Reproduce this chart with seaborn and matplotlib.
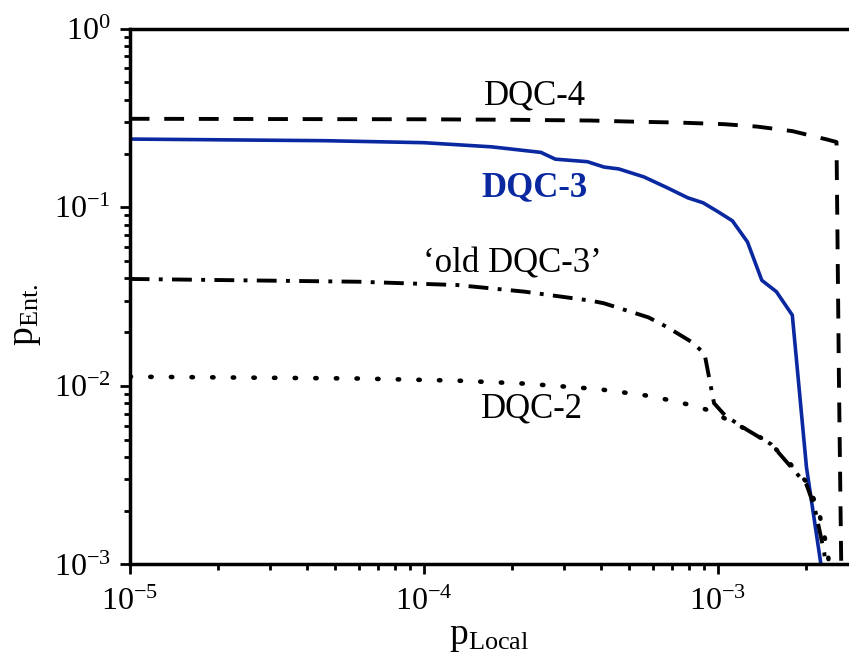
import matplotlib
matplotlib.use("Agg")
import matplotlib.pyplot as plt
import seaborn as sns

# curves (x = p_Local, y = p_Ent.)
dqc4_x = [1e-5, 3e-5, 1e-4, 2e-4, 3.7e-4, 5.0e-4, 7.4e-4, 1.05e-3, 1.36e-3, 1.79e-3, 2.34e-3, 2.53e-3, 2.58e-3, 2.63e-3]
dqc4_y = [0.313, 0.312, 0.311, 0.309, 0.306, 0.302, 0.298, 0.292, 0.283, 0.267, 0.240, 0.232, 0.01, 8e-4]

dqc3_x = [1e-5, 4.6e-5, 1.0e-4, 1.7e-4, 2.5e-4, 2.8e-4, 3.6e-4, 4.1e-4, 4.6e-4, 5.6e-4, 6.7e-4,
          7.9e-4, 8.9e-4, 1.0e-3, 1.12e-3, 1.26e-3, 1.41e-3, 1.58e-3, 1.79e-3, 2.0e-3, 2.24e-3, 2.26e-3]
dqc3_y = [0.241, 0.236, 0.230, 0.218, 0.203, 0.186, 0.180, 0.168, 0.164, 0.148, 0.129,
          0.113, 0.106, 0.0945, 0.084, 0.064, 0.039, 0.0337, 0.0249, 0.0035, 0.0010, 0.0009]

old3_x = [1e-5, 6e-5, 1.3e-4, 2.2e-4, 3.7e-4, 4.1e-4, 5.8e-4, 6.7e-4, 8.1e-4, 9.0e-4, 9.7e-4,
          1.06e-3, 1.25e-3, 1.52e-3, 1.75e-3, 2.0e-3, 2.13e-3, 2.30e-3, 2.33e-3]
old3_y = [0.0397, 0.0383, 0.0367, 0.0337, 0.030, 0.029, 0.0242, 0.0214, 0.0177, 0.0152, 0.0080,
          0.0068, 0.0057, 0.0047, 0.0036, 0.0028, 0.0021, 0.00116, 0.0009]

dqc2_x = [1e-5, 6e-5, 1.3e-4, 2.2e-4, 3.6e-4, 4.1e-4, 5.0e-4, 5.8e-4, 6.9e-4, 8.1e-4, 9.4e-4,
          1.05e-3, 1.25e-3, 1.5e-3, 1.75e-3, 2.0e-3, 2.2e-3, 2.36e-3, 2.4e-3]
dqc2_y = [0.01126, 0.0110, 0.0107, 0.0103, 0.0097, 0.0095, 0.0091, 0.0088, 0.0083, 0.0078, 0.00727,
          0.0066, 0.0057, 0.0048, 0.0037, 0.0029, 0.0020, 0.0012, 0.0009]

labels = ["DQC-4", "DQC-3", "\u2018old DQC-3\u2019", "DQC-2"]
label_x = [2.38e-4, 2.38e-4, 2.0e-4, 2.34e-4]
label_y = [0.374, 0.1157, 0.0430, 0.00664]

blue = "#0a28a0"

sns.set_theme(style="ticks")
plt.rcParams["font.family"] = ["Liberation Serif", "DejaVu Serif"]
plt.rcParams["mathtext.fontset"] = "custom"
plt.rcParams["mathtext.rm"] = "Liberation Serif"
plt.rcParams["axes.unicode_minus"] = False
for key in ["text.color", "axes.labelcolor", "xtick.color", "ytick.color",
            "xtick.labelcolor", "ytick.labelcolor", "axes.edgecolor"]:
    plt.rcParams[key] = "black"

fig = plt.figure(figsize=(8.49, 6.61), dpi=100)
ax = fig.add_axes([0.1527, 0.1460, 0.8473, 0.8106])

sns.lineplot(x=dqc4_x, y=dqc4_y, sort=False, estimator=None, ax=ax, color="black",
             lw=2.8, linestyle=(0, (5.1, 3.8)))
sns.lineplot(x=dqc3_x, y=dqc3_y, sort=False, estimator=None, ax=ax, color=blue, lw=2.6)
sns.lineplot(x=old3_x, y=old3_y, sort=False, estimator=None, ax=ax, color="black",
             lw=2.8, linestyle=(0, (5.1, 2.4, 1.0, 2.4)))
sns.lineplot(x=dqc2_x, y=dqc2_y, sort=False, estimator=None, ax=ax, color="black",
             lw=3.3, linestyle=(0, (0.3, 4.2)), dash_capstyle="round")

ax.set_xscale("log")
ax.set_yscale("log")
ax.set_xlim(1e-5, 2.79e-3)
ax.set_ylim(1e-3, 1)

for t, x, y in zip(labels, label_x, label_y):
    bold = t == "DQC-3"
    ax.text(x, y, t, ha="center", va="baseline", fontsize=25,
            color=blue if bold else "black", fontweight="bold" if bold else "normal")

ax.set_xlabel(r"$\mathdefault{p_{Local}}$", fontsize=27, labelpad=2)
ax.set_ylabel(r"$\mathdefault{p_{Ent.}}$", fontsize=27)
ax.yaxis.set_label_coords(-0.121, 0.466)

for side in ["left", "bottom", "top"]:
    ax.spines[side].set_linewidth(2.5)
    ax.spines[side].set_color("black")
ax.spines["right"].set_visible(False)

ax.tick_params(which="both", direction="out", color="black", width=2, top=False, right=False)
ax.tick_params(which="major", length=7.5, labelsize=23)
ax.tick_params(axis="x", which="major", pad=9)
ax.tick_params(axis="y", which="major", pad=6)
ax.tick_params(which="minor", length=4.3)
ax.grid(False)

fig.savefig("out.png", dpi=100)
